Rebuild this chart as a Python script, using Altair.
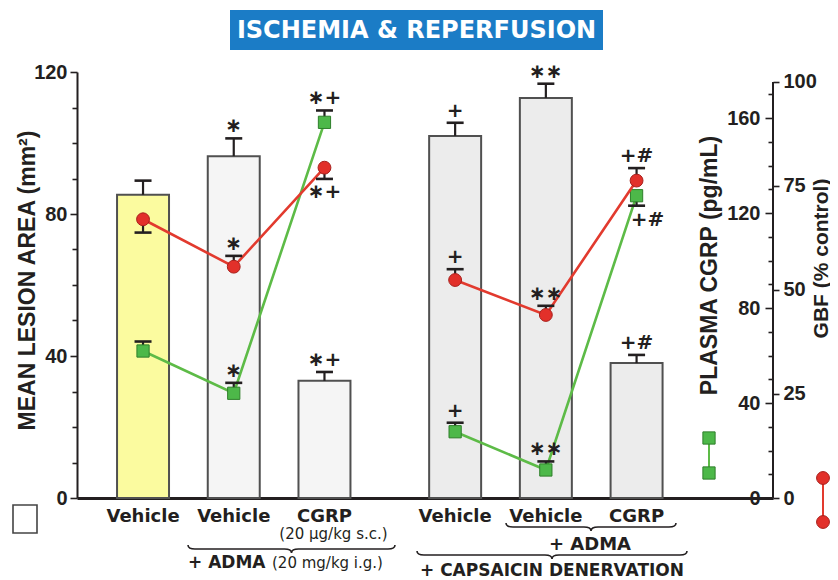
import altair as alt
import pandas as pd

# ---------------- data ----------------
groups = ["Intact"] * 3 + ["Capsaicin denervation"] * 3
treatments = ["Vehicle", "ADMA + vehicle", "ADMA + CGRP"] * 2
x_labels = ["Vehicle", "Vehicle", "CGRP", "Vehicle", "Vehicle", "CGRP"]
dose_labels = ["", "", "(20 \u00b5g/kg s.c.)", "", "", ""]

lesion_area = [85.4, 96.3, 33.0, 102.0, 112.7, 38.0]
lesion_sem = [4.0, 5.0, 2.5, 3.7, 4.0, 2.3]
lesion_sig = ["", "\u2217", "\u2217+", "+", "\u2217\u2217", "+#"]

cgrp_plasma = [61.9, 44.1, 158.2, 27.9, 11.8, 127.3]
cgrp_sem = [4.0, 4.4, 5.0, 3.8, 3.6, 4.2]
cgrp_err_side = ["up", "up", "up", "up", "up", "down"]
cgrp_sig = ["", "\u2217", "\u2217+", "+", "\u2217\u2217", "+#"]

gbf = [67.0, 55.6, 79.4, 52.4, 44.0, 76.3]
gbf_sem = [3.2, 2.6, 2.7, 2.6, 2.2, 3.0]
gbf_err_side = ["down", "up", "down", "up", "up", "up"]
gbf_sig = ["", "\u2217", "\u2217+", "+", "\u2217\u2217", "+#"]

group_order = ["Intact", "Capsaicin denervation"]
treat_order = ["Vehicle", "ADMA + vehicle", "ADMA + CGRP"]

# ---------------- table ----------------
def cap(v, e, side):
    return [a + b if s == "up" else a - b for a, b, s in zip(v, e, side)]

df = pd.DataFrame({
    "group": groups,
    "treatment": treatments,
    "x_label": x_labels,
    "dose": dose_labels,
    "lesion": lesion_area,
    "lesion_cap": [a + b for a, b in zip(lesion_area, lesion_sem)],
    "lesion_sig": lesion_sig,
    "cgrp": cgrp_plasma,
    "cgrp_cap": cap(cgrp_plasma, cgrp_sem, cgrp_err_side),
    "cgrp_sig_up": [t if s == "up" else "" for t, s in zip(cgrp_sig, cgrp_err_side)],
    "cgrp_sig_dn": [t if s == "down" else "" for t, s in zip(cgrp_sig, cgrp_err_side)],
    "gbf": gbf,
    "gbf_cap": cap(gbf, gbf_sem, gbf_err_side),
    "gbf_sig_up": [t if s == "up" else "" for t, s in zip(gbf_sig, gbf_err_side)],
    "gbf_sig_dn": [t if s == "down" else "" for t, s in zip(gbf_sig, gbf_err_side)],
})
df["idx"] = range(len(df))
df["fill_key"] = df["group"] + "|" + df["treatment"]
fill_keys = list(df["fill_key"])
fill_colors = ["#fbfb9f", "#f5f5f5", "#f5f5f5", "#ececec", "#ececec", "#ececec"]

# ---------------- styling ----------------
W, H = 696, 426
INK = "#231f20"
RED, RED_LINE, RED_EDGE = "#e2302a", "#e23a2e", "#a8201c"
GREEN, GREEN_LINE, GREEN_EDGE = "#4db849", "#5dbb47", "#2f7f2b"
AX_FONT = "Liberation Sans"
TXT_FONT = "DejaVu Sans"

XS = alt.Scale(type="band", domain=group_order, paddingInner=0.128,
               paddingOuter=0.179, align=0.185)
XOS = alt.Scale(type="band", domain=treat_order, paddingInner=0.427,
                paddingOuter=0.2135)
X_AX = alt.Axis(labels=False, ticks=False, domain=True, domainWidth=3,
                domainColor=INK, title=None, grid=False)


def X():
    return alt.X("group:N", scale=XS, axis=X_AX, title=None)


def XO():
    return alt.XOffset("treatment:N", scale=XOS)


major40 = "datum.value % 40 === 0"
LS = alt.Scale(domain=[0, 120], nice=False)
LEFT_AX = alt.Axis(orient="left", values=list(range(0, 121, 10)),
                   labelExpr=f"{major40} ? datum.label : ''",
                   tickSize={"condition": {"test": major40, "value": 7}, "value": 5},
                   tickWidth=1.6, domainWidth=2, domainColor=INK, labelPadding=3,
                   title="MEAN LESION AREA (mm\u00b2)", titleX=-50, titleY=208,
                   titleAngle=270, titleAlign="center", titleBaseline="middle")

CS = alt.Scale(domain=[0, 179.4], nice=False)
CGRP_AX = alt.Axis(orient="left", offset=-W, values=list(range(0, 171, 10)),
                   labelExpr=f"{major40} ? datum.label : ''",
                   tickSize={"condition": {"test": major40, "value": 8}, "value": 5},
                   tickWidth=1.6, domain=False, labelPadding=5,
                   title="PLASMA CGRP (pg/mL)", titleX=-64, titleY=193,
                   titleAngle=270, titleAlign="center", titleBaseline="middle")

GS = alt.Scale(domain=[0, 102.4], nice=False)
GBF_AX = alt.Axis(orient="right", values=[0, 25, 50, 75, 100], tickSize=6,
                  tickWidth=1.6, domain=False, labelPadding=4,
                  title="GBF (% control)", titleX=48, titleY=186, titleFontSize=21,
                  titleAngle=270, titleAlign="center", titleBaseline="middle")

SIG = dict(font=TXT_FONT, fontWeight="bold", fontSize=20, color=INK,
           baseline="middle", align="center")

base = alt.Chart(df)

# ---------------- lesion bars ----------------
def YL(f):
    return alt.Y(f, scale=LS, axis=LEFT_AX)

bars = base.mark_bar(stroke="#505050", strokeWidth=2).encode(
    x=X(), xOffset=XO(), y=YL("lesion:Q"),
    color=alt.Color("fill_key:N", scale=alt.Scale(domain=fill_keys, range=fill_colors),
                    legend=None))
bar_stem = base.mark_rule(color=INK, strokeWidth=2.2).encode(
    x=X(), xOffset=XO(), y=YL("lesion:Q"), y2=alt.Y2("lesion_cap:Q"))
bar_cap = base.mark_tick(color=INK, thickness=2.6, size=17, opacity=1).encode(
    x=X(), xOffset=XO(), y=YL("lesion_cap:Q"))
bar_sig = base.mark_text(dy=-12, **SIG).encode(
    x=X(), xOffset=XO(), y=YL("lesion_cap:Q"), text="lesion_sig:N")
bar_layer = alt.layer(bars, bar_stem, bar_cap, bar_sig)

# ---------------- plasma CGRP (green) ----------------
def YC(f):
    return alt.Y(f, scale=CS, axis=CGRP_AX)

c_line = base.mark_line(color=GREEN_LINE, strokeWidth=2.6).encode(
    x=X(), xOffset=XO(), y=YC("cgrp:Q"), detail="group:N", order="idx:Q")
c_stem = base.mark_rule(color=INK, strokeWidth=2.2).encode(
    x=X(), xOffset=XO(), y=YC("cgrp:Q"), y2=alt.Y2("cgrp_cap:Q"))
c_cap = base.mark_tick(color=INK, thickness=2.6, size=17, opacity=1).encode(
    x=X(), xOffset=XO(), y=YC("cgrp_cap:Q"))
c_pts = base.mark_point(shape="square", filled=True, fill=GREEN, stroke=GREEN_EDGE,
                        strokeWidth=1, size=150, opacity=1).encode(
    x=X(), xOffset=XO(), y=YC("cgrp:Q"))
c_sig_up = base.mark_text(dy=-12, **SIG).encode(
    x=X(), xOffset=XO(), y=YC("cgrp_cap:Q"), text="cgrp_sig_up:N")
c_sig_dn = base.mark_text(dy=14, dx=11, **SIG).encode(
    x=X(), xOffset=XO(), y=YC("cgrp_cap:Q"), text="cgrp_sig_dn:N")
cgrp_layer = alt.layer(c_line, c_stem, c_cap, c_pts, c_sig_up, c_sig_dn)

# ---------------- GBF (red) ----------------
def YG(f):
    return alt.Y(f, scale=GS, axis=GBF_AX)

g_axis_line = alt.Chart(pd.DataFrame({"k": [0]})).mark_rule(color=INK, strokeWidth=2).encode(
    x=alt.value(W), y=alt.Y(datum=0, type="quantitative", scale=GS, axis=GBF_AX),
    y2=alt.Y2(datum=100))
g_line = base.mark_line(color=RED_LINE, strokeWidth=2.6).encode(
    x=X(), xOffset=XO(), y=YG("gbf:Q"), detail="group:N", order="idx:Q")
g_stem = base.mark_rule(color=INK, strokeWidth=2.2).encode(
    x=X(), xOffset=XO(), y=YG("gbf:Q"), y2=alt.Y2("gbf_cap:Q"))
g_cap = base.mark_tick(color=INK, thickness=2.6, size=17, opacity=1).encode(
    x=X(), xOffset=XO(), y=YG("gbf_cap:Q"))
g_pts = base.mark_point(shape="circle", filled=True, fill=RED, stroke=RED_EDGE,
                        strokeWidth=1, size=165, opacity=1).encode(
    x=X(), xOffset=XO(), y=YG("gbf:Q"))
g_sig_up = base.mark_text(dy=-12, **SIG).encode(
    x=X(), xOffset=XO(), y=YG("gbf_cap:Q"), text="gbf_sig_up:N")
g_sig_dn = base.mark_text(dy=13, **SIG).encode(
    x=X(), xOffset=XO(), y=YG("gbf_cap:Q"), text="gbf_sig_dn:N")
gbf_layer = alt.layer(g_axis_line, g_line, g_stem, g_cap, g_pts, g_sig_up, g_sig_dn)

# ---------------- category labels ----------------
x_text = base.mark_text(font=TXT_FONT, fontWeight="bold", fontSize=18, color=INK,
                        baseline="alphabetic").encode(
    x=X(), xOffset=XO(), y=alt.value(450), text="x_label:N")
dose_text = base.mark_text(font=TXT_FONT, fontWeight="normal", fontSize=15, color=INK,
                           baseline="alphabetic", dx=9).encode(
    x=X(), xOffset=XO(), y=alt.value(467), text="dose:N")

# ---------------- decorations ----------------
one = pd.DataFrame({"k": [0]})


def brace_path(width_px, height_px=8.0, curl_px=7.0):
    k = 2.0 / width_px
    a = height_px / 2 * k
    c = curl_px * k
    return (f"M -1 {-a:.4f} Q -1 0 {-1 + c:.4f} 0 L {-c:.4f} 0 Q 0 0 0 {a:.4f} "
            f"Q 0 0 {c:.4f} 0 L {1 - c:.4f} 0 Q 1 0 1 {-a:.4f}")


def brace(cx, cy, w):
    return alt.Chart(one).mark_point(shape=brace_path(w), filled=False, color=INK,
                                     strokeWidth=1.6, size=w * w, opacity=1).encode(
        x=alt.value(cx), y=alt.value(cy))


def label(txt, cx, cy, size=18, align="center", weight="bold"):
    return alt.Chart(one).mark_text(text=txt, font=TXT_FONT, fontWeight=weight,
                                    fontSize=size, color=INK, align=align,
                                    baseline="alphabetic").encode(
        x=alt.value(cx), y=alt.value(cy))


title_box = alt.Chart(one).mark_rect(color="#1b7cc6").encode(
    x=alt.value(153), x2=alt.value(526), y=alt.value(-62), y2=alt.value(-22))
title_txt = alt.Chart(one).mark_text(text="ISCHEMIA & REPERFUSION", font=TXT_FONT,
                                     fontWeight="bold", fontSize=24, color="white",
                                     baseline="middle", align="center").encode(
    x=alt.value(339.5), y=alt.value(-41))

legend_box = alt.Chart(one).mark_rect(fill="white", stroke="#444444", strokeWidth=1.6).encode(
    x=alt.value(-64), x2=alt.value(-40), y=alt.value(433), y2=alt.value(461))
leg_green_line = alt.Chart(one).mark_rule(color=GREEN_LINE, strokeWidth=2).encode(
    x=alt.value(632), y=alt.value(366), y2=alt.value(401))
leg_green_pts = alt.Chart(pd.DataFrame({"p": [366, 401]})).mark_point(
    shape="square", filled=True, fill=GREEN, stroke=GREEN_EDGE, strokeWidth=1,
    size=150, opacity=1).encode(x=alt.value(632), y=alt.Y("p:Q", scale=None))
leg_red_line = alt.Chart(one).mark_rule(color=RED_LINE, strokeWidth=2).encode(
    x=alt.value(746), y=alt.value(406), y2=alt.value(450))
leg_red_pts = alt.Chart(pd.DataFrame({"p": [406, 450]})).mark_point(
    shape="circle", filled=True, fill=RED, stroke=RED_EDGE, strokeWidth=1,
    size=165, opacity=1).encode(x=alt.value(746), y=alt.Y("p:Q", scale=None))

deco = alt.layer(
    x_text, dose_text,
    brace(214.5, 477, 207),
    label("+ ADMA", 111, 496, size=17, align="left"),
    label("(20 mg/kg i.g.)", 195, 496, size=15, align="left", weight="normal"),
    brace(514, 455, 170),
    label("+ ADMA", 513, 478),
    brace(475, 483, 270),
    label("+ CAPSAICIN DENERVATION", 475, 504, size=17),
    title_box, title_txt,
    legend_box, leg_green_line, leg_green_pts, leg_red_line, leg_red_pts,
)

chart = alt.layer(bar_layer, cgrp_layer, gbf_layer, deco).resolve_scale(
    y="independent"
).properties(
    width=W, height=H,
    autosize=alt.AutoSizeParams(type="none"),
    padding={"left": 69, "top": 64, "right": 57, "bottom": 82},
).configure_view(stroke=None).configure_axis(
    grid=False, labelFont=AX_FONT, labelFontWeight="bold", labelFontSize=20,
    labelColor=INK, titleFont=AX_FONT, titleFontWeight="bold", titleFontSize=23,
    titleColor=INK, tickColor=INK, domainColor=INK,
)

chart.save("out.html", embed_options={"renderer": "svg", "actions": False})
